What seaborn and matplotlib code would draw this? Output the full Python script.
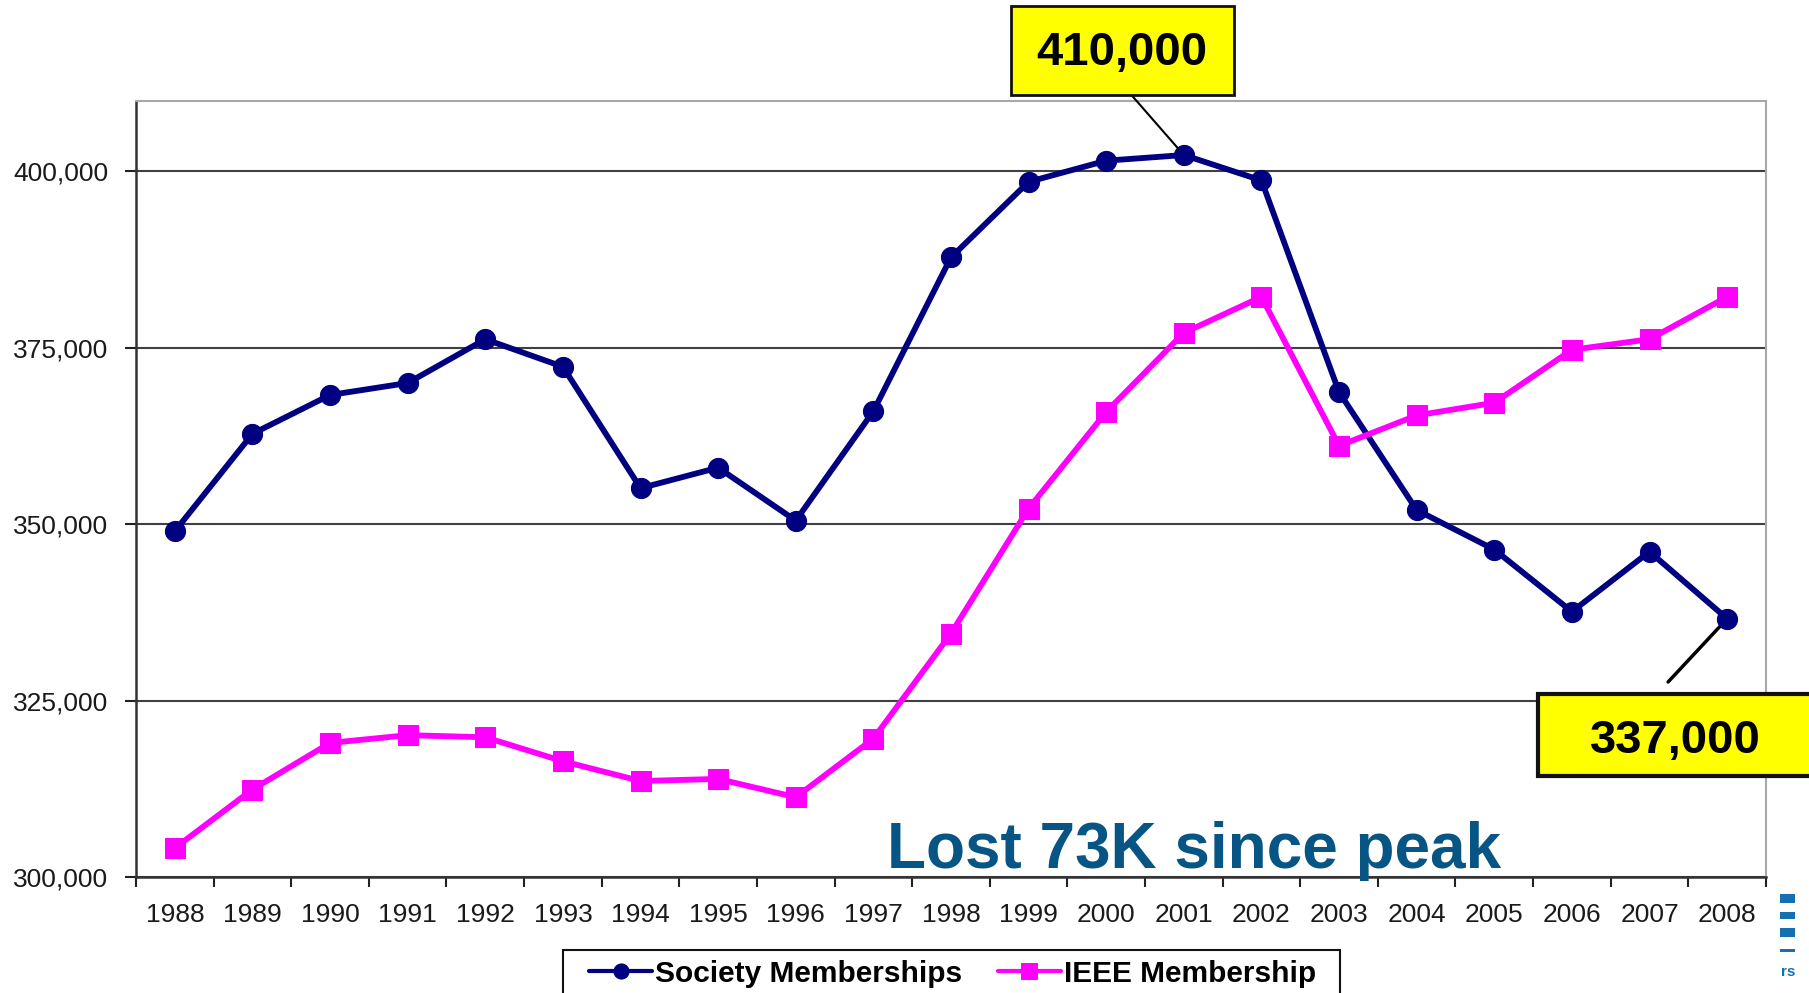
import seaborn as sns
import numpy as np
import matplotlib.pyplot as plt
import pandas as pd
from matplotlib.patches import Rectangle
from matplotlib.ticker import FuncFormatter, FixedLocator

#%% data
years = [str(y) for y in range(1988, 2009)]
society = [349000, 362800, 368300, 370000, 376200, 372300, 355100, 358000, 350500, 366000,
           387800, 398500, 401500, 402300, 398700, 368700, 352000, 346400, 337600, 346100, 336600]
ieee = [304100, 312400, 319000, 320100, 319800, 316400, 313600, 313900, 311300, 319600,
        334500, 352200, 365900, 377100, 382200, 361100, 365400, 367200, 374700, 376200, 382200]
series_names = ['Society Memberships', 'IEEE Membership']
peak_label = '410,000'
last_label = '337,000'
note = 'Lost 73K since peak'

df = pd.DataFrame({
    'Year': years * 2,
    'Members': society + ieee,
    'Series': [series_names[0]] * len(years) + [series_names[1]] * len(years),
})

#%%
sns.set_style('white')
plt.rcParams['font.family'] = ['Liberation Sans', 'DejaVu Sans']

fig = plt.figure(figsize=(18.09, 9.93), dpi=100)
ax = fig.add_axes([0.0752, 0.1168, 0.9010, 0.7818])

sns.lineplot(data=df, x='Year', y='Members', hue='Series', style='Series',
             palette=['#000080', '#FF00FF'], markers=['o', 's'], dashes=False,
             linewidth=4.2, markersize=14.5, sort=False, ax=ax)
for ln in ax.lines:
    ln.set_markeredgecolor(ln.get_color())

ax.set_xlim(-0.5, len(years) - 0.5)
ax.set_ylim(300000, 410000)
ax.set_yticks([300000, 325000, 350000, 375000, 400000])
ax.yaxis.set_major_formatter(FuncFormatter(lambda v, p: f'{int(v):,}'))
ax.set_xlabel('')
ax.set_ylabel('')

# category labels centred, tick marks between categories
ax.set_xticks(range(len(years)))
ax.set_xticklabels(years)
ax.xaxis.set_minor_locator(FixedLocator(np.arange(-0.5, len(years), 1.0)))
ax.tick_params(axis='x', which='major', length=0, pad=19, labelsize=19, labelcolor='#1a1a1a')
ax.tick_params(axis='x', which='minor', length=7, width=1.5, color='#222222', bottom=True)
ax.tick_params(axis='y', which='major', length=8, width=1.5, color='#222222', left=True,
               pad=12, labelsize=19, labelcolor='#1a1a1a')

ax.grid(axis='y', color='#404040', linewidth=1.5)
ax.grid(axis='x', visible=False)
for side in ['left', 'bottom']:
    ax.spines[side].set_color('#333333')
    ax.spines[side].set_linewidth(1.8)
for side in ['top', 'right']:
    ax.spines[side].set_color('#a8a8a8')
    ax.spines[side].set_linewidth(1.5)

# legend: frame drawn separately (it runs off the bottom edge)
leg = ax.legend(loc='center', bbox_to_anchor=(0.5265, 0.0195),
                bbox_transform=fig.transFigure, ncol=2, frameon=False,
                prop={'weight': 'bold', 'size': 21.5}, handlelength=2.1,
                handletextpad=0.1, columnspacing=1.2, markerscale=0.75,
                borderpad=0, borderaxespad=0)
for h in leg.legend_handles:
    h.set_linewidth(3)
    h.set_markeredgecolor(h.get_color())
for t in leg.get_texts():
    t.set_color('black')
fig.patches.append(Rectangle((0.3112, -0.05), 0.4295, 0.0933, transform=fig.transFigure,
                             facecolor='none', edgecolor='#111111', linewidth=1.5))

#%% callouts
fig.patches.append(Rectangle((0.5589, 0.9043), 0.1233, 0.0896, transform=fig.transFigure,
                             facecolor='#FFFF00', edgecolor='#111111', linewidth=2, zorder=5))
fig.text(0.6202, 0.9345, peak_label, ha='center', va='baseline', fontsize=34,
         fontweight='bold', color='black', zorder=6)
ax.annotate('', xy=(years.index('2001'), max(society)), xycoords='data',
            xytext=(0.623, 0.9094), textcoords='figure fraction',
            arrowprops=dict(arrowstyle='-', color='black', lw=1.5, shrinkA=0, shrinkB=6))

fig.patches.append(Rectangle((0.8502, 0.2185), 0.2, 0.0826, transform=fig.transFigure,
                             facecolor='#FFFF00', edgecolor='#111111', linewidth=3, zorder=5))
fig.text(0.9259, 0.2417, last_label, ha='center', va='baseline', fontsize=34,
         fontweight='bold', color='black', zorder=6)
ax.annotate('', xy=(len(years) - 1, society[-1]), xycoords='data',
            xytext=(0.9221, 0.3132), textcoords='figure fraction',
            arrowprops=dict(arrowstyle='-', color='black', lw=2.5, shrinkA=0, shrinkB=8))

fig.text(0.4905, 0.1260, note, ha='left', va='baseline', fontsize=46,
         fontweight='bold', color='#075585')

# clipped slide logo fragments at the right edge
for y0, hh in [(0.0906, 0.0091), (0.0745, 0.0070), (0.0564, 0.0091), (0.0413, 0.0030)]:
    fig.patches.append(Rectangle((0.9840, y0), 0.0085, hh, transform=fig.transFigure,
                                 facecolor='#1670b0', edgecolor='none'))
fig.text(0.9925, 0.0170, 'rs', ha='right', va='baseline', fontsize=11,
         fontweight='bold', color='#1670b0')

plt.savefig('out.png', dpi=100)
